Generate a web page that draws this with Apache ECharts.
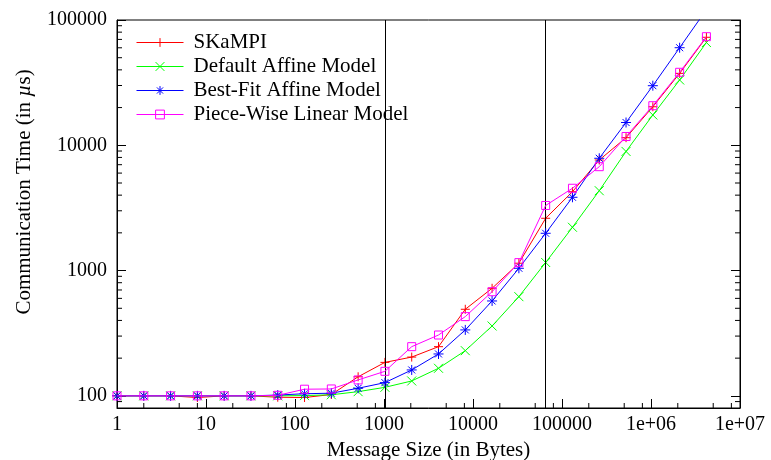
<!DOCTYPE html>
<html>
<head>
<meta charset="utf-8">
<script src="https://cdn.jsdelivr.net/npm/echarts@6/dist/echarts.min.js"></script>
<style>
html,body{margin:0;padding:0;background:#fff;}
#chart{width:771px;height:460px;}
</style>
</head>
<body>
<div id="chart"></div>
<script>
// Message sizes (bytes)
var messageSizes = [1, 2, 4, 8, 16, 32, 64, 128, 256, 512, 1024, 2048, 4096, 8192, 16384, 32768, 65536, 131072, 262144, 524288, 1048576, 2097152, 4194304];
// Communication times (microseconds)
var skampi = [100, 100, 100, 97, 100, 100, 97.5, 97, 102.5, 142, 185, 204, 247, 491, 722, 1145, 2615, 4260, 7630, 11500, 20300, 37500, 72800];
var defaultAffine = [100, 100, 100, 100, 100, 100, 100, 100.5, 102, 108, 117, 131.5, 166, 229.5, 361, 619, 1160, 2216, 4340, 8930, 17450, 33200, 66100];
var bestFitAffine = [100, 100, 100, 100, 100, 100, 101.5, 104, 105, 115, 127.5, 161, 216, 336, 572, 1043, 1985, 3846, 7876, 15200, 29900, 60100, 121000];
var pieceWise = [100, 100, 100, 100, 100, 100, 101, 113, 113.5, 134, 157, 247, 306, 429, 678, 1157, 3308, 4540, 6750, 11750, 20700, 38250, 73600];
var seriesNames = ['SKaMPI', 'Default Affine Model', 'Best-Fit Affine Model', 'Piece-Wise Linear Model'];
// Threshold markers (bytes)
var thresholds = [1024, 65536];
// Tick values and labels
var xMajorTicks = [1, 10, 100, 1000, 10000, 100000, 1000000, 10000000];
var xTickLabels = ['1', '10', '100', '1000', '10000', '100000', '1e+06', '1e+07'];
var yMajorTicks = [100, 1000, 10000, 100000];
var yTickLabels = ['100', '1000', '10000', '100000'];
var xMinorTicks = [2, 5, 8, 20, 50, 80, 200, 500, 800, 2000, 5000, 8000, 20000, 50000, 80000, 200000, 500000, 800000, 2000000, 5000000, 8000000];
var yMinorTicks = [90, 200, 300, 400, 500, 600, 700, 800, 900, 2000, 3000, 4000, 5000, 6000, 7000, 8000, 9000, 20000, 30000, 40000, 50000, 60000, 70000, 80000, 90000];

var FONT = 'Liberation Serif';
var colors = ['#ff0000', '#00ff00', '#0000ff', '#ff00ff'];
var symbols = [
  'path://M0,5H10M5,0V10',
  'path://M0,0L10,10M0,10L10,0',
  'path://M0,5H10M5,0V10M1.5,1.5L8.5,8.5M1.5,8.5L8.5,1.5',
  'path://M0,0H10V10H0Z'
];
var symbolSizes = [9, 9, 10, 8];
var values = [skampi, defaultAffine, bestFitAffine, pieceWise];

function labelFor(ticks, labels, v) {
  for (var i = 0; i < ticks.length; i++) {
    if (Math.abs(Math.log10(v) - Math.log10(ticks[i])) < 1e-6) return labels[i];
  }
  return '';
}

var lineSeries = values.map(function (vals, i) {
  var s = {
    name: seriesNames[i],
    type: 'line',
    data: messageSizes.map(function (x, j) { return [x, vals[j]]; }),
    symbol: symbols[i],
    symbolSize: symbolSizes[i],
    showAllSymbol: true,
    clip: true,
    lineStyle: {color: colors[i], width: 1},
    itemStyle: {color: 'rgba(0,0,0,0)', borderColor: colors[i], borderWidth: 1},
    emphasis: {disabled: true},
    z: 3 + i,
    animation: false
  };
  if (i === 0) {
    s.markLine = {
      silent: true,
      symbol: ['none', 'none'],
      label: {show: false},
      lineStyle: {color: '#000', width: 1, type: 'solid'},
      data: thresholds.map(function (t) { return {xAxis: t}; }),
      animation: false
    };
  }
  return s;
});

var minorX = {
  type: 'custom',
  silent: true,
  animation: false,
  z: 10,
  data: xMinorTicks.map(function (v) { return [v, 100]; }),
  renderItem: function (params, api) {
    var p = api.coord([api.value(0), api.value(1)]);
    var cs = params.coordSys;
    var yb = cs.y + cs.height;
    return {type: 'line', shape: {x1: p[0], y1: yb, x2: p[0], y2: yb - 5}, style: {stroke: '#000', lineWidth: 1}};
  }
};
var minorY = {
  type: 'custom',
  silent: true,
  animation: false,
  z: 10,
  data: yMinorTicks.map(function (v) { return [10, v]; }),
  renderItem: function (params, api) {
    var p = api.coord([api.value(0), api.value(1)]);
    var cs = params.coordSys;
    return {type: 'group', children: [
      {type: 'line', shape: {x1: cs.x, y1: p[1], x2: cs.x + 5, y2: p[1]}, style: {stroke: '#000', lineWidth: 1}},
      {type: 'line', shape: {x1: cs.x + cs.width, y1: p[1], x2: cs.x + cs.width - 5, y2: p[1]}, style: {stroke: '#000', lineWidth: 1}}
    ]};
  }
};

var chart = echarts.init(document.getElementById('chart'), null, {renderer: 'canvas'});
chart.setOption({
  animation: false,
  backgroundColor: '#fff',
  textStyle: {fontFamily: FONT},
  grid: {left: 117, right: 31, top: 20, bottom: 52, containLabel: false, outerBoundsMode: 'none', show: true, borderColor: '#000', borderWidth: 1, backgroundColor: 'transparent'},
  legend: {
    data: seriesNames,
    orient: 'vertical',
    left: 136,
    top: 32,
    padding: 0,
    itemWidth: 47,
    itemHeight: 11,
    itemGap: 3,
    selectedMode: false,
    lineStyle: {width: 1},
    itemStyle: {borderWidth: 1},
    textStyle: {fontFamily: FONT, fontSize: 21, color: '#000', padding: [0, 0, 0, 5], lineHeight: 20.7}
  },
  xAxis: [{
    type: 'log',
    logBase: 10,
    min: 1,
    max: 10000000,
    name: 'Message Size (in Bytes)',
    nameLocation: 'middle',
    nameGap: 29,
    nameTextStyle: {fontFamily: FONT, fontSize: 21, color: '#000'},
    axisLine: {show: true, lineStyle: {color: '#000', width: 1}},
    axisTick: {show: true, inside: true, length: 9, lineStyle: {color: '#000'}, customValues: xMajorTicks},
    splitLine: {show: false},
    axisLabel: {fontFamily: FONT, fontSize: 20, color: '#000', margin: 7, customValues: xMajorTicks,
      formatter: function (v) { return labelFor(xMajorTicks, xTickLabels, v); }}
  }],
  yAxis: [{
    type: 'log',
    logBase: 10,
    min: 80,
    max: 100000,
    name: 'Communication Time (in {i|\u00b5}s)',
    nameLocation: 'middle',
    nameGap: 82,
    nameTextStyle: {fontFamily: FONT, fontSize: 21, color: '#000', padding: [0, 0, 0, 44],
      rich: {i: {fontFamily: FONT, fontSize: 21, fontStyle: 'italic', color: '#000'}}},
    axisLine: {show: true, lineStyle: {color: '#000', width: 1}},
    axisTick: {show: true, inside: true, length: 9, lineStyle: {color: '#000'}, customValues: yMajorTicks},
    splitLine: {show: false},
    axisLabel: {fontFamily: FONT, fontSize: 20, color: '#000', margin: 10, customValues: yMajorTicks,
      formatter: function (v) { return labelFor(yMajorTicks, yTickLabels, v); }}
  }, {
    type: 'log',
    logBase: 10,
    min: 80,
    max: 100000,
    position: 'right',
    axisLine: {show: true, lineStyle: {color: '#000', width: 1}},
    axisTick: {show: true, inside: true, length: 9, lineStyle: {color: '#000'}, customValues: yMajorTicks},
    splitLine: {show: false},
    axisLabel: {show: false}
  }],
  series: lineSeries.concat([minorX, minorY])
});
</script>
</body>
</html>
